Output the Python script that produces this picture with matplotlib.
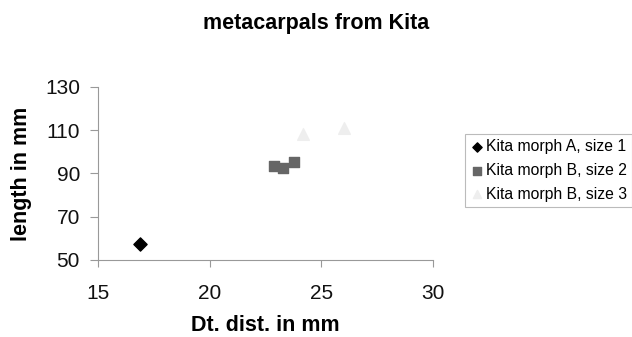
import matplotlib
matplotlib.use('Agg')
from matplotlib import pyplot as plt

plt.rcParams['font.family'] = ['Liberation Sans', 'DejaVu Sans']

a_x = [16.9]
a_y = [57.4]
b2_x = [22.9, 23.3, 23.8]
b2_y = [93.6, 92.4, 95.5]
b3_x = [24.2, 26.0]
b3_y = [108.3, 110.9]

fig = plt.figure(figsize=(6.32, 3.37), dpi=100)
ax = fig.add_axes([0.155, 0.2285, 0.53, 0.5135])

ax.scatter(a_x, a_y, marker='D', s=45, color='black', label='Kita morph A, size 1', zorder=3)
ax.scatter(b2_x, b2_y, marker='s', s=55, color='#666666', label='Kita morph B, size 2', zorder=3)
ax.scatter(b3_x, b3_y, marker='^', s=70, color='#eeeeee', label='Kita morph B, size 3', zorder=3)

ax.set_xlim(15, 30)
ax.set_ylim(50, 130)
ax.set_xticks([15, 20, 25, 30])
ax.set_yticks([50, 70, 90, 110, 130])
for s in ['top', 'right']:
    ax.spines[s].set_visible(False)
for s in ['left', 'bottom']:
    ax.spines[s].set_color('#999999')
ax.tick_params(colors='#999999', labelcolor='#111111', labelsize=15)
ax.tick_params(axis='x', length=5, pad=12)
ax.tick_params(axis='y', length=6, pad=7)

ax.set_xlabel('Dt. dist. in mm', fontsize=15.5, fontweight='bold', labelpad=9)
ax.set_ylabel('length in mm', fontsize=15.5, fontweight='bold', labelpad=9)
fig.suptitle('metacarpals from Kita', fontsize=15.5, fontweight='bold', x=0.5, y=0.96)

leg = fig.legend(loc='upper left', bbox_to_anchor=(0.735, 0.603), fontsize=11.3,
                 frameon=True, fancybox=False, handletextpad=0.1, borderpad=0.35,
                 labelspacing=0.55, handlelength=0.9, markerscale=0.7, borderaxespad=0)
leg.get_frame().set_edgecolor('#aaaaaa')
leg.get_frame().set_linewidth(0.8)

plt.savefig('out.png', dpi=100)
